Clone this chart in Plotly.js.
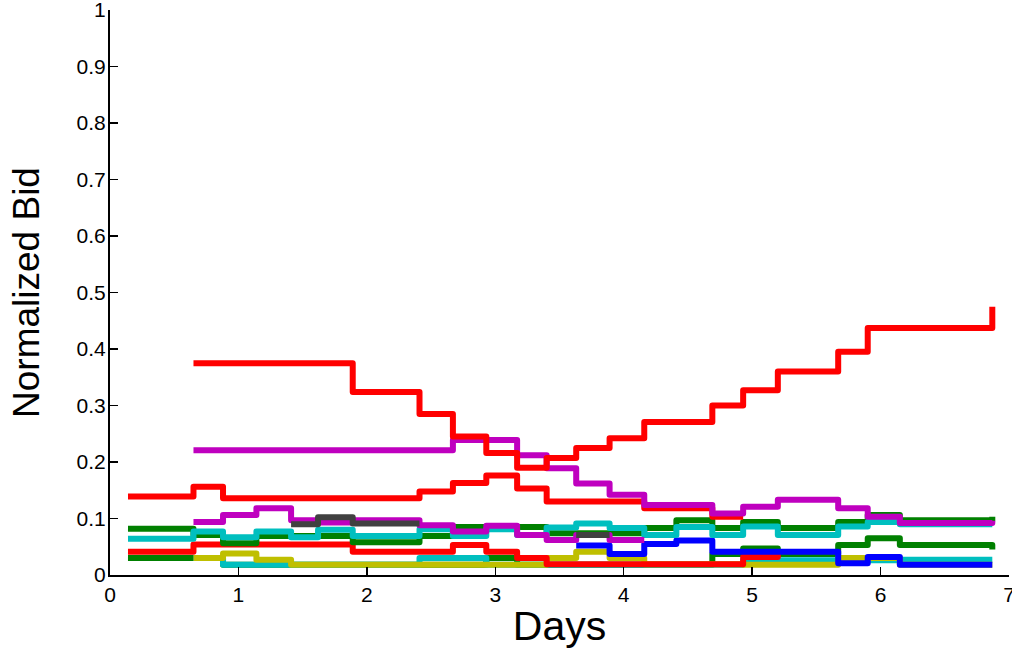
<!DOCTYPE html>
<html>
<head>
<meta charset="utf-8">
<script src="https://cdn.plot.ly/plotly-3.0.1.min.js"></script>
<style>
  html, body { margin: 0; padding: 0; background: #fff; }
  #chart { width: 1012px; height: 649px; }
  .scatterlayer path.js-line { stroke-linejoin: round; stroke-linecap: butt; }
</style>
</head>
<body>
<div id="chart"></div>
<script>
// Time points (days) at which bids change
const days = [0.14, 0.65, 0.88, 1.14, 1.41, 1.62, 1.89, 2.41, 2.67, 2.93, 3.17, 3.40, 3.63, 3.89, 4.16, 4.41, 4.69, 4.93, 5.20, 5.67, 5.90, 6.15, 6.87];

// Normalized bid series (null = not present)
const greenB   = [0.030, 0.030, 0.018, 0.018, 0.018, 0.018, 0.018, 0.018, 0.018, 0.030, 0.018, 0.018, 0.018, 0.018, 0.018, 0.018, 0.037, 0.047, 0.037, 0.053, 0.065, 0.053, 0.045];
const cyanB    = [null, 0.030, 0.018, 0.018, 0.018, 0.018, 0.018, 0.030, 0.030, 0.018, 0.018, 0.018, 0.018, 0.018, 0.018, 0.018, 0.018, 0.026, 0.026, 0.026, 0.026, 0.027, 0.027];
const yellow   = [null, 0.030, 0.038, 0.027, 0.018, 0.018, 0.018, 0.018, 0.018, 0.018, 0.018, 0.030, 0.041, 0.030, 0.019, 0.019, 0.019, 0.018, 0.018, 0.030, 0.030, 0.018, 0.018];
const redLow   = [0.041, 0.054, 0.054, 0.054, 0.054, 0.054, 0.041, 0.041, 0.053, 0.041, 0.030, 0.019, 0.019, 0.019, 0.019, 0.019, 0.019, 0.032, 0.040, null, null, null, null];
const greenA   = [0.082, 0.071, 0.056, 0.069, 0.069, 0.069, 0.058, 0.069, 0.085, 0.085, 0.085, 0.074, 0.074, 0.074, 0.083, 0.097, 0.083, 0.094, 0.083, 0.094, 0.106, 0.097, 0.103];
const blue     = [null, null, null, null, null, null, null, null, null, null, null, null, 0.052, 0.037, 0.055, 0.061, 0.041, 0.041, 0.041, 0.021, 0.032, 0.018, 0.018];
const cyanA    = [0.064, 0.077, 0.067, 0.077, 0.067, 0.080, 0.069, 0.081, 0.069, 0.081, 0.071, 0.084, 0.091, 0.083, 0.071, 0.085, 0.071, 0.086, 0.071, 0.086, 0.094, 0.090, 0.090];
const magentaLow = [null, 0.094, 0.106, 0.118, 0.097, 0.093, 0.097, 0.088, 0.077, 0.087, 0.071, 0.062, 0.071, 0.062, 0.062, null, null, null, null, null, null, null, null];
const gray     = [null, null, null, null, 0.090, 0.102, 0.091, 0.091, null, null, null, null, 0.071, 0.071, null, null, null, null, null, null, null, null, null];
const redMid   = [0.139, 0.156, 0.136, 0.136, 0.136, 0.136, 0.136, 0.148, 0.163, 0.176, 0.153, 0.130, 0.130, 0.130, 0.118, 0.118, 0.103, 0.103, null, null, null, null, null];
const magentaTop = [null, 0.221, 0.221, 0.221, 0.221, 0.221, 0.221, 0.221, 0.239, 0.239, 0.212, 0.189, 0.162, 0.142, 0.124, 0.124, 0.109, 0.121, 0.133, 0.118, 0.103, 0.092, 0.096];
const redTop   = [null, 0.375, 0.375, 0.375, 0.375, 0.375, 0.324, 0.285, 0.245, 0.216, 0.190, 0.207, 0.225, 0.242, 0.271, 0.271, 0.300, 0.327, 0.360, 0.395, 0.437, 0.437, 0.475];

// Tick labels
const xTickVals = [0, 1, 2, 3, 4, 5, 6, 7];
const xTickText = ['0', '1', '2', '3', '4', '5', '6', '7'];
const yTickVals = [0, 0.1, 0.2, 0.3, 0.4, 0.5, 0.6, 0.7, 0.8, 0.9, 1];
const yTickText = ['0', '0.1', '0.2', '0.3', '0.4', '0.5', '0.6', '0.7', '0.8', '0.9', '1'];

const series = [
  { y: greenB, color: '#008000' },
  { y: cyanB, color: '#00bfbf' },
  { y: yellow, color: '#bfbf00' },
  { y: redLow, color: '#ff0000' },
  { y: greenA, color: '#008000' },
  { y: blue, color: '#0000ff' },
  { y: cyanA, color: '#00bfbf' },
  { y: magentaLow, color: '#bf00bf' },
  { y: gray, color: '#404040' },
  { y: redMid, color: '#ff0000' },
  { y: magentaTop, color: '#bf00bf' },
  { y: redTop, color: '#ff0000' }
];

const traces = series.map(s => ({
  type: 'scatter',
  mode: 'lines',
  x: days,
  y: s.y,
  connectgaps: false,
  line: { shape: 'hv', width: 6, color: s.color },
  hoverinfo: 'skip',
  showlegend: false
}));

const fontFam = '"Liberation Sans", Arial, Helvetica, sans-serif';

const layout = {
  width: 1012,
  height: 649,
  margin: { l: 110, r: 3, t: 10, b: 74 },
  paper_bgcolor: '#ffffff',
  plot_bgcolor: '#ffffff',
  showlegend: false,
  xaxis: {
    range: [0, 7],
    tickvals: xTickVals,
    ticktext: xTickText,
    ticks: 'inside',
    ticklen: 8,
    tickwidth: 1.5,
    tickcolor: '#000',
    showline: true,
    linecolor: '#000',
    linewidth: 2,
    showgrid: false,
    zeroline: false,
    ticklabeloverflow: 'allow',
    ticklabelstandoff: 0,
    tickfont: { family: fontFam, size: 21, color: '#000' },
    title: { text: 'Days', font: { family: fontFam, size: 41, color: '#000' }, standoff: 8 }
  },
  yaxis: {
    range: [0, 1],
    tickvals: yTickVals,
    ticktext: yTickText,
    ticks: 'inside',
    ticklen: 8,
    tickwidth: 1.5,
    tickcolor: '#000',
    showline: true,
    linecolor: '#000',
    linewidth: 2,
    showgrid: false,
    zeroline: false,
    ticklabeloverflow: 'allow',
    ticklabelstandoff: -2,
    tickfont: { family: fontFam, size: 21, color: '#000' },
    title: { text: 'Normalized Bid', font: { family: fontFam, size: 37, color: '#000' }, standoff: 26 }
  }
};

Plotly.newPlot('chart', traces, layout, { displayModeBar: false, staticPlot: true });
</script>
</body>
</html>
